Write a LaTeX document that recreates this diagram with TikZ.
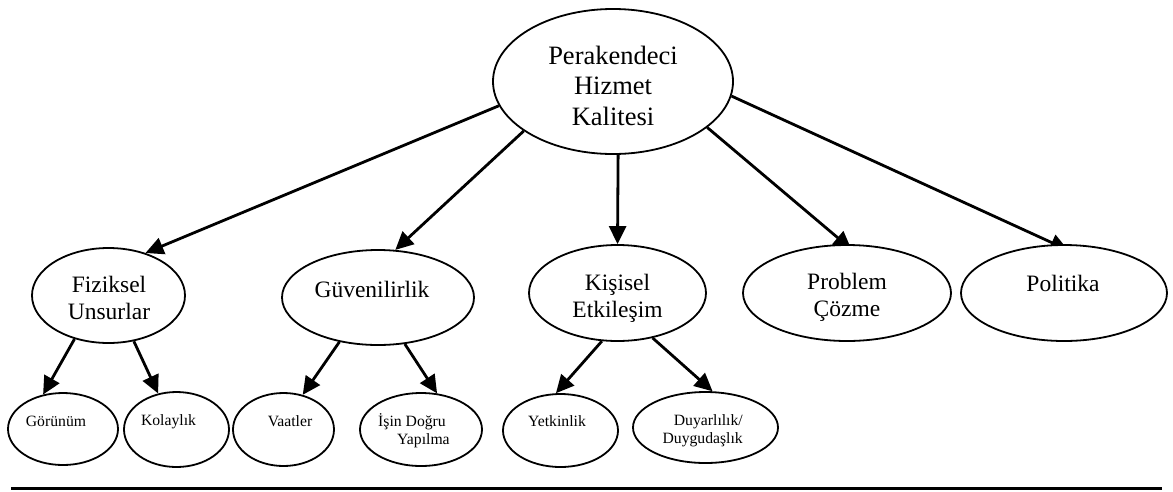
\documentclass[tikz,border=0pt]{standalone}
\usepackage{fontspec}
\setmainfont{Liberation Serif}
\usetikzlibrary{shapes.geometric,arrows.meta}
\pgfdeclarelayer{bg}
\pgfsetlayers{bg,main}
\begin{document}
\begin{tikzpicture}[x=1pt,y=-1pt,
  el/.style={draw,ellipse,line width=1.8pt,fill=white,inner sep=0pt},
  bigtxt/.style={font=\fontsize{26.5}{30.5}\selectfont,align=center,inner sep=0pt},
  midtxt/.style={font=\fontsize{23.5}{27}\selectfont,align=center,inner sep=0pt},
  smltxt/.style={font=\fontsize{15.7}{18}\selectfont,inner sep=0pt},
  arr/.style={line width=2.8pt,-{Triangle[length=18pt,width=17pt]}}]
\useasboundingbox (0,0) rectangle (1173,491);

% ellipses
\node[el,minimum width=240pt,minimum height=145pt] (pk) at (613,81.5) {};
\node[el,minimum width=153pt,minimum height=95pt] (fiz) at (108.5,295.5) {};
\node[el,minimum width=192pt,minimum height=95pt] (guv) at (378,297.5) {};
\node[el,minimum width=177pt,minimum height=96pt] (kis) at (617.5,293) {};
\node[el,minimum width=208pt,minimum height=96pt] (pro) at (847,293) {};
\node[el,minimum width=206pt,minimum height=96pt] (pol) at (1064,293) {};
\node[el,minimum width=110pt,minimum height=72pt] (gor) at (63,429) {};
\node[el,minimum width=105pt,minimum height=75pt] (kol) at (176.5,429.5) {};
\node[el,minimum width=101pt,minimum height=73pt] (vaa) at (283.5,429.5) {};
\node[el,minimum width=122pt,minimum height=73pt] (isi) at (421,429.5) {};
\node[el,minimum width=115pt,minimum height=73pt] (yet) at (560.5,430.5) {};
\node[el,minimum width=145pt,minimum height=71pt] (duy) at (705.5,427.5) {};

% texts
\node[bigtxt] (pkT) at (613,85.5) {Perakendeci\\Hizmet\\Kalitesi};
\node[midtxt] (fizT) at (109,297.5) {Fiziksel\\Unsurlar};
\node[midtxt] (guvT) at (372,289) {Güvenilirlik};
\node[midtxt] (kisT) at (617.5,298) {Kişisel\\Etkileşim};
\node[midtxt] (proT) at (847,297.5) {Problem\\Çözme};
\node[midtxt] (polT) at (1063,283) {Politika};
\node[smltxt] (gorT) at (56,421.6) {Görünüm};
\node[smltxt] (kolT) at (168.5,421.4) {Kolaylık};
\node[smltxt] (vaaT) at (290,421.6) {Vaatler};
\node[smltxt,align=left,anchor=west] (isiT) at (378,431) {İşin Doğru\\\hspace*{19pt}Yapılma};
\node[smltxt] (yetT) at (557,421.6) {Yetkinlik};
\node[smltxt,align=right,anchor=east] (duyT) at (743,430.4) {Duyarlılık/\\Duygudaşlık};

% connectors
\begin{pgfonlayer}{bg}
\draw[arr] (pk.192) -- (fiz.49);
\draw[arr] (pk.209) -- (guv.70);
\draw[arr] (pk.274) -- (kis.north);
\draw[arr,shorten >=-8pt] (pk.334) -- (pro.92);
\draw[arr,shorten >=-14pt] (pk.353) -- (pol.100);
\draw[arr] (fiz.232) -- (gor.120);
\draw[arr] (fiz.299) -- (kol.117);
\draw[arr] (guv.229) -- (vaa.61);
\draw[arr] (guv.300) -- (isi.66);
\draw[arr] (kis.252) -- (yet.97);
\draw[arr] (kis.308) -- (duy.79);
\end{pgfonlayer}

% rule at the bottom
\coordinate (ruleL) at (11,488.5);
\coordinate (ruleR) at (1162,488.5);
\draw[line width=2.2pt] (ruleL) -- (ruleR);
\end{tikzpicture}
\end{document}
